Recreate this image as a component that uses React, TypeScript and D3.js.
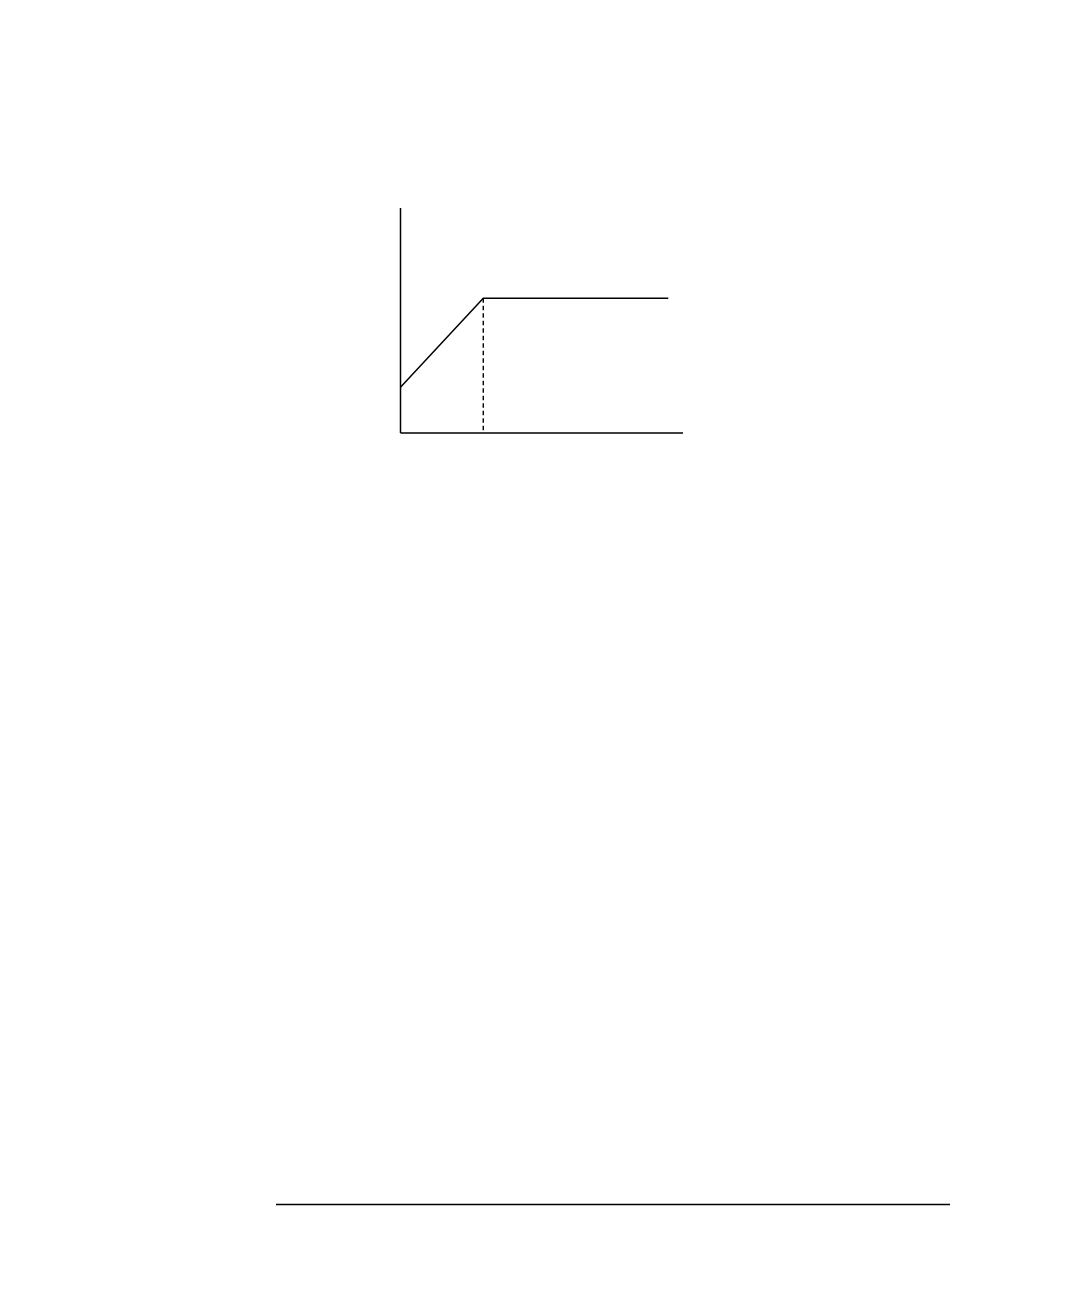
import React, { useEffect, useRef } from "react";
import * as d3 from "d3";

const W = 1080;
const H = 1298;

// piecewise curve: rises linearly, then flat
const xValues = [0, 2.93, 9.48];
const yValues = [2.03, 5.99, 5.99];
const breakX = 2.93;

const App: React.FC = () => {
  const ref = useRef<SVGSVGElement>(null);

  useEffect(() => {
    if (!ref.current) return;
    const svg = d3.select(ref.current);
    svg.selectAll("*").remove();

    const x = d3.scaleLinear().domain([0, 10]).range([400.5, 683]);
    const y = d3.scaleLinear().domain([0, 10]).range([433, 208]);

    const g = svg.append("g");

    // axes (no ticks)
    g.append("line")
      .attr("x1", x(0))
      .attr("x2", x(0))
      .attr("y1", y(0))
      .attr("y2", y(10))
      .attr("stroke", "#000")
      .attr("stroke-width", 1.5);

    g.append("line")
      .attr("x1", x(0))
      .attr("x2", x(10))
      .attr("y1", y(0))
      .attr("y2", y(0))
      .attr("stroke", "#000")
      .attr("stroke-width", 1.5);

    // dashed drop line at the break point
    const yBreak = yValues[xValues.indexOf(breakX)];
    g.append("line")
      .attr("x1", x(breakX))
      .attr("x2", x(breakX))
      .attr("y1", y(yBreak))
      .attr("y2", y(0))
      .attr("stroke", "#000")
      .attr("stroke-width", 1.4)
      .attr("stroke-dasharray", "4.5,3");

    const points = xValues.map((v, i) => [v, yValues[i]] as [number, number]);
    const line = d3
      .line<[number, number]>()
      .x((d) => x(d[0]))
      .y((d) => y(d[1]));

    g.append("path")
      .datum(points)
      .attr("fill", "none")
      .attr("stroke", "#000")
      .attr("stroke-width", 1.5)
      .attr("d", line);

    // page footer rule
    svg.append("line")
      .attr("x1", 276)
      .attr("x2", 950)
      .attr("y1", 1204.5)
      .attr("y2", 1204.5)
      .attr("stroke", "#000")
      .attr("stroke-width", 1.5);
  }, []);

  return (
    <svg
      ref={ref}
      width={W}
      height={H}
      viewBox={`0 0 ${W} ${H}`}
      style={{ position: "absolute", left: 0, top: 0, background: "#fff" }}
    />
  );
};

export default App;
